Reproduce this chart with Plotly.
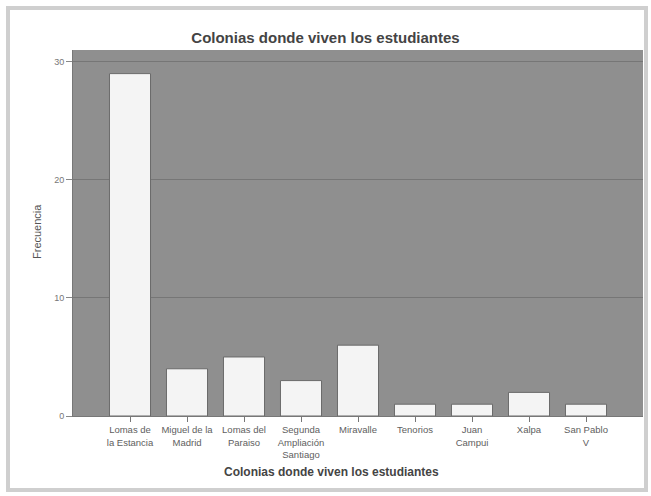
import plotly.graph_objects as go

categorias = [
    "Lomas de<br>la Estancia",
    "Miguel de la<br>Madrid",
    "Lomas del<br>Paraiso",
    "Segunda<br>Ampliación<br>Santiago",
    "Miravalle",
    "Tenorios",
    "Juan<br>Campui",
    "Xalpa",
    "San Pablo<br>V",
]
frecuencias = [29, 4, 5, 3, 6, 1, 1, 2, 1]
y_ticks = [0, 10, 20, 30]

FONT = "Liberation Sans, Arial, sans-serif"

fig = go.Figure(
    go.Bar(
        x=categorias,
        y=frecuencias,
        marker=dict(color="#f4f4f4", line=dict(color="#6a6a6a", width=1)),
        hoverinfo="skip",
    )
)

fig.update_layout(
    width=651,
    height=496,
    margin=dict(l=73, r=8, t=50, b=80),
    paper_bgcolor="white",
    plot_bgcolor="#8f8f8f",
    bargap=0.28,
    showlegend=False,
    font=dict(family=FONT, color="#555555"),
    title=dict(
        text="Colonias donde viven los estudiantes",
        x=0.5,
        xref="container",
        xanchor="center",
        y=1 - 38 / 496,
        yref="container",
        yanchor="middle",
        font=dict(family=FONT, size=15, color="#444444", weight="bold"),
    ),
    xaxis=dict(
        type="category",
        range=[-1, 9],
        showgrid=False,
        zeroline=False,
        showline=True,
        linecolor="#777777",
        linewidth=1,
        ticks="outside",
        ticklen=5,
        tickcolor="#777777",
        tickfont=dict(family=FONT, size=9.5, color="#606060"),
        tickangle=0,
    ),
    yaxis=dict(
        range=[0, 31],
        tickvals=y_ticks,
        showgrid=True,
        gridcolor="#767676",
        gridwidth=1,
        zeroline=False,
        showline=True,
        linecolor="#777777",
        linewidth=1,
        ticks="outside",
        ticklen=6,
        tickcolor="#888888",
        tickfont=dict(family=FONT, size=9, color="#777777"),
    ),
    annotations=[
        dict(
            text="Colonias donde viven los estudiantes",
            xref="paper", yref="paper",
            x=(331 - 73) / 570, y=(416 - 472) / 366,
            xanchor="center", yanchor="middle",
            showarrow=False,
            font=dict(family=FONT, size=12, color="#444444", weight="bold"),
        ),
        dict(
            text="Frecuencia",
            xref="paper", yref="paper",
            x=(37 - 73) / 570, y=(416 - 232) / 366,
            xanchor="center", yanchor="middle",
            textangle=-90,
            showarrow=False,
            font=dict(family=FONT, size=11, color="#555555"),
        ),
    ],
    shapes=[
        dict(
            type="rect",
            xref="paper", yref="paper",
            x0=(8 - 73) / 570, x1=(646 - 73) / 570,
            y0=(416 - 490) / 366, y1=(416 - 8) / 366,
            line=dict(color="#cfcfcf", width=4),
            fillcolor="rgba(0,0,0,0)",
            layer="below",
        )
    ],
)

fig.write_html(
    "out.html",
    config={"displayModeBar": False},
    post_script="document.body.style.margin='0';document.body.style.padding='0';",
)
